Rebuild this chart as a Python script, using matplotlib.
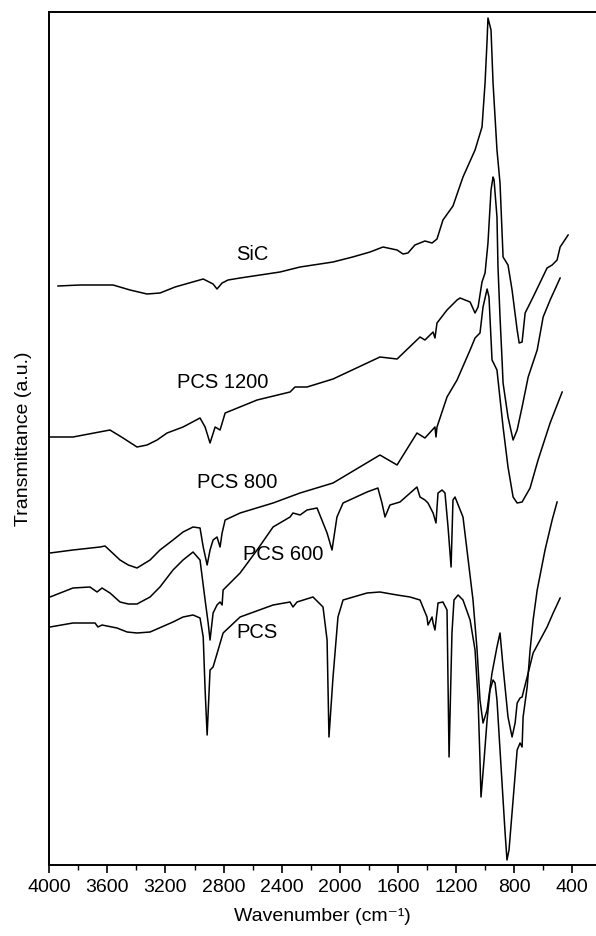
import matplotlib
matplotlib.use('Agg')
import matplotlib.pyplot as plt
from matplotlib.ticker import MultipleLocator

plt.rcParams['font.family'] = ['Liberation Sans', 'DejaVu Sans']

# IR spectra, transmittance in arbitrary units (curves are offset)
sic_wn = [3940, 3789, 3561, 3444, 3327, 3237, 3134, 2940, 2872, 2845, 2810, 2769, 2686,
          2411, 2273, 2046, 1911, 1791, 1702, 1605, 1564, 1530, 1482, 1413, 1364, 1330, 1289,
          1220, 1151, 1068, 1020, 999, 985, 979, 958, 944, 917, 896, 875, 841, 813,
          778, 764, 744, 723, 668, 572, 537, 503, 482, 427]
sic_t = [579, 580, 580, 575, 571, 572, 578, 586, 581, 576, 582, 585, 587,
         593, 598, 603, 608, 613, 618, 615, 611, 612, 620, 624, 622, 626, 645,
         659, 688, 715, 738, 782, 825, 847, 835, 782, 715, 682, 608, 600, 575,
         535, 522, 523, 552, 568, 597, 600, 605, 618, 630]

pcs1200_wn = [3995, 3837, 3582, 3492, 3396, 3327, 3258, 3189, 3079, 2962, 2927, 2893, 2858,
              2824, 2789, 2569, 2342, 2308, 2225, 2046, 1723, 1605, 1447, 1413, 1357, 1344,
              1330, 1261, 1192, 1171, 1102, 1068, 1047, 1020, 999, 979, 958, 944, 937, 917,
              910, 896, 882, 875, 841, 806, 778, 744, 702, 640, 599, 551, 482]
pcs1200_t = [428, 428, 435, 427, 418, 420, 425, 432, 438, 447, 438, 422, 438,
             435, 452, 465, 473, 478, 478, 486, 508, 506, 528, 525, 533, 527,
             542, 555, 565, 567, 563, 552, 558, 583, 592, 622, 675, 688, 685, 648,
             598, 548, 505, 482, 448, 425, 435, 458, 488, 515, 548, 565, 587]

pcs800_wn = [3995, 3837, 3651, 3616, 3513, 3456, 3396, 3306, 3238, 3148, 3079, 3010, 2962,
             2940, 2913, 2893, 2872, 2845, 2824, 2810, 2789, 2686, 2459, 2273, 2046, 1723,
             1605, 1468, 1413, 1344, 1337, 1330, 1261, 1192, 1102, 1068, 1034, 1013, 985,
             972, 951, 944, 917, 875, 841, 806, 778, 744, 689, 634, 551, 468]
pcs800_t = [312, 315, 318, 319, 305, 300, 297, 305, 315, 325, 333, 338, 337,
            318, 300, 315, 325, 328, 318, 332, 345, 352, 362, 372, 382, 410,
            400, 432, 427, 438, 428, 438, 468, 485, 515, 527, 532, 558, 576,
            568, 505, 503, 495, 438, 398, 368, 362, 363, 377, 405, 442, 473]

pcs600_wn = [3995, 3837, 3720, 3671, 3637, 3582, 3513, 3456, 3396, 3306, 3238, 3148, 3079,
             3010, 2962, 2927, 2906, 2893, 2872, 2845, 2824, 2810, 2803, 2686, 2569, 2459,
             2342, 2322, 2273, 2225, 2156, 2087, 2053, 2019, 1977, 1812, 1737, 1709, 1688,
             1654, 1585, 1468, 1447, 1413, 1392, 1357, 1337, 1323, 1295, 1275, 1254,
             1233, 1220, 1206, 1151, 1082, 1054, 1034, 1013, 985, 951, 917, 896, 875,
             841, 813, 792, 778, 758, 744, 709, 668, 620, 572, 530, 482]
pcs600_t = [268, 277, 278, 273, 277, 272, 263, 261, 261, 268, 278, 295, 305,
            313, 305, 265, 242, 225, 252, 260, 263, 260, 275, 292, 315, 338,
            348, 352, 350, 355, 357, 332, 315, 348, 362, 373, 377, 362, 348,
            360, 363, 378, 368, 365, 362, 352, 342, 372, 375, 372, 338,
            298, 365, 368, 348, 265, 215, 165, 142, 155, 192, 218, 232, 198,
            148, 128, 142, 162, 167, 168, 188, 212, 225, 238, 252, 267]

pcs_wn = [3995, 3837, 3685, 3665, 3637, 3534, 3464, 3396, 3306, 3148, 3079, 3010, 2962,
          2940, 2927, 2913, 2893, 2872, 2803, 2686, 2459, 2342, 2322, 2294, 2184, 2115,
          2087, 2074, 2046, 2012, 1977, 1812, 1723, 1605, 1516, 1447, 1399, 1392,
          1364, 1357, 1344, 1323, 1289, 1261, 1247, 1227, 1213, 1185, 1151, 1102,
          1068, 1047, 1034, 1027, 1006, 985, 965, 944, 930, 917, 896, 861, 848, 834,
          806, 778, 758, 744, 737, 709, 689, 668, 640, 586, 537, 503]
pcs_t = [238, 242, 242, 238, 240, 237, 233, 232, 233, 243, 248, 250, 247,
         228, 175, 130, 195, 198, 232, 248, 260, 263, 258, 263, 268, 258,
         225, 128, 188, 248, 265, 272, 273, 270, 268, 265, 248, 240,
         248, 242, 235, 262, 263, 255, 108, 232, 265, 270, 265, 245,
         215, 165, 105, 68, 105, 145, 175, 185, 182, 165, 115, 32, 5, 15,
         65, 115, 122, 118, 148, 178, 215, 245, 275, 315, 345, 363]

spectra = [(sic_wn, sic_t), (pcs1200_wn, pcs1200_t), (pcs800_wn, pcs800_t),
           (pcs600_wn, pcs600_t), (pcs_wn, pcs_t)]

names = ['SiC', 'PCS 1200', 'PCS 800', 'PCS 600', 'PCS']
name_wn = [2604, 2803, 2707, 2390, 2570]
name_t = [610, 482, 382, 310, 232]

fig = plt.figure(figsize=(5.96, 9.36), dpi=100)
ax = fig.add_axes([49.3 / 596, 71 / 936, 1 - 49.3 / 596, (865 - 11.7) / 936])

for wn, t in spectra:
    ax.plot(wn, t, color='black', lw=1.1)

for name, x, y in zip(names, name_wn, name_t):
    ax.text(x, y, name, fontsize=14.5, ha='center', va='center')

ax.set_xlim(4000, 235)
ax.set_ylim(0, 853.3)
ax.spines['right'].set_visible(False)
for side in ['left', 'top', 'bottom']:
    ax.spines[side].set_linewidth(1.4)

ax.set_yticks([])
ax.xaxis.set_major_locator(MultipleLocator(400))
ax.xaxis.set_minor_locator(MultipleLocator(200))
ax.tick_params(axis='x', which='major', direction='out', length=6, width=1.2,
               labelsize=14, pad=4)
ax.tick_params(axis='x', which='minor', direction='out', length=3.5, width=1.0)

ax.set_xlabel('Wavenumber (cm⁻¹)', fontsize=14, labelpad=9)
ax.set_ylabel('Transmittance (a.u.)', fontsize=14)
ax.yaxis.set_label_coords(-0.032, 0.5)

fig.savefig('out.png', dpi=100)
